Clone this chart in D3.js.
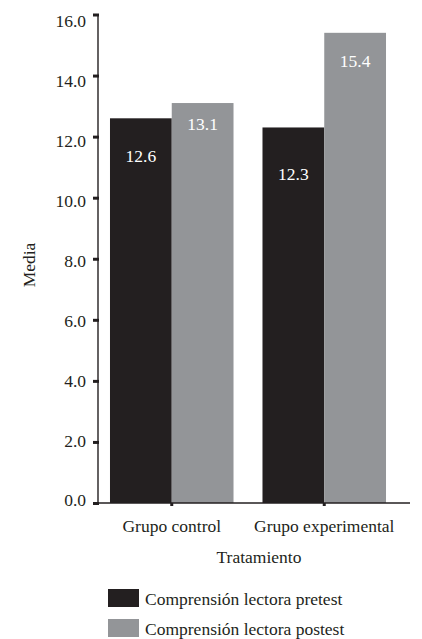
<!DOCTYPE html>
<html>
<head>
<meta charset="utf-8">
<script src="https://cdn.jsdelivr.net/npm/d3@7"></script>
<style>
  html, body { margin: 0; padding: 0; background: #ffffff; }
  svg { display: block; }
</style>
</head>
<body>
<svg id="chart" width="422" height="639"></svg>
<script>
// Grupos del tratamiento
const groups = ["Grupo control", "Grupo experimental"];
// Series (medias de comprensión lectora)
const seriesNames = ["Comprensión lectora pretest", "Comprensión lectora postest"];
const pretest = [12.6, 12.3];
const postest = [13.1, 15.4];
// Marcas del eje Y
const yTicks = [0, 2, 4, 6, 8, 10, 12, 14, 16];
const yTickLabels = ["0.0", "2.0", "4.0", "6.0", "8.0", "10.0", "12.0", "14.0", "16.0"];

const colors = ["#231f20", "#939598"];
const FONT = 17.5;
const SERIF = "Liberation Serif";
const INK = "#231f20";

const svg = d3.select("#chart")
  .attr("font-family", SERIF);

const axisX0 = 98, axisX1 = 410;
const y = d3.scaleLinear().domain([0, 16]).range([503, 14.5]);
// The tick labels sit on a slightly tighter spacing than the tick marks
const yLabel = d3.scaleLinear().domain([0, 16]).range([500, 20.5]);
const x0 = d3.scaleBand().domain(groups).range([95.5, 400.5])
  .paddingInner(0.19).paddingOuter(0.095);
const x1 = d3.scaleBand().domain(seriesNames).range([0, x0.bandwidth()]);

const rows = groups.map((g, i) => ({ group: g, values: [pretest[i], postest[i]] }));

function label(sel) {
  return sel.attr("font-family", SERIF).attr("font-size", FONT).attr("fill", INK);
}

// Barras
const gBars = svg.append("g");
rows.forEach(r => {
  r.values.forEach((v, j) => {
    gBars.append("rect")
      .attr("x", x0(r.group) + x1(seriesNames[j]))
      .attr("y", y(v))
      .attr("width", x1.bandwidth())
      .attr("height", y(0) - y(v))
      .attr("fill", colors[j]);
  });
});

// Etiquetas de valor dentro de cada barra (desplazamiento desde el borde superior)
const labelDrop = [[43.5, 27], [52.5, 34]];
rows.forEach((r, i) => {
  r.values.forEach((v, j) => {
    svg.append("text")
      .call(label)
      .attr("x", x0(r.group) + x1(seriesNames[j]) + x1.bandwidth() / 2)
      .attr("y", y(v) + labelDrop[i][j])
      .attr("text-anchor", "middle")
      .attr("fill", "#ffffff")
      .text(d3.format(".1f")(v));
  });
});

// Eje Y
const yAxis = d3.axisLeft(y)
  .tickValues(yTicks)
  .tickFormat((d, i) => yTickLabels[i])
  .tickSize(6)
  .tickPadding(6);
const gy = svg.append("g")
  .attr("transform", `translate(${axisX0},0)`)
  .call(yAxis)
  .attr("font-family", SERIF);
gy.select(".domain").remove();
gy.selectAll(".tick line").attr("stroke", INK).attr("stroke-width", 3).attr("x2", -5).attr("x1", 1);
gy.selectAll(".tick text")
  .call(label)
  .attr("y", d => yLabel(d) - y(d))
  .attr("dy", "0.34em");
svg.append("line")
  .attr("x1", axisX0).attr("x2", axisX0)
  .attr("y1", y(16)).attr("y2", y(0))
  .attr("stroke", INK).attr("stroke-width", 1.4);

// Eje X
svg.append("line")
  .attr("x1", axisX0).attr("x2", axisX1)
  .attr("y1", y(0)).attr("y2", y(0))
  .attr("stroke", INK).attr("stroke-width", 1.4);
const xAxis = d3.axisBottom(x0).tickSize(3).tickPadding(14);
const gx = svg.append("g")
  .attr("transform", `translate(0,${y(0)})`)
  .call(xAxis)
  .attr("font-family", SERIF);
gx.select(".domain").remove();
gx.selectAll(".tick line").attr("stroke", INK).attr("stroke-width", 3);
gx.selectAll(".tick text")
  .call(label)
  .attr("dy", "0.71em");

// Títulos de los ejes
svg.append("text")
  .call(label)
  .attr("x", 259).attr("y", 563)
  .attr("text-anchor", "middle")
  .text("Tratamiento");
svg.append("text")
  .call(label)
  .attr("transform", "translate(35,265) rotate(-90)")
  .attr("text-anchor", "middle")
  .text("Media");

// Leyenda
const leg = svg.append("g");
seriesNames.forEach((s, j) => {
  const top = 589 + j * 30;
  leg.append("rect")
    .attr("x", 108).attr("y", top)
    .attr("width", 31).attr("height", 18)
    .attr("fill", colors[j]);
  leg.append("text")
    .call(label)
    .attr("x", 145).attr("y", top + 16)
    .text(s);
});
</script>
</body>
</html>
